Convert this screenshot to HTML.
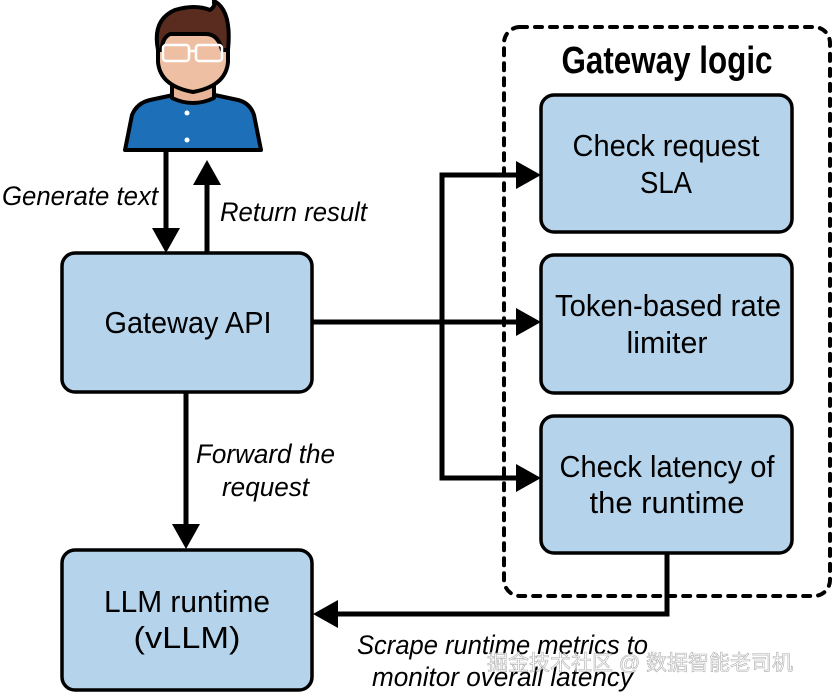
<!DOCTYPE html>
<html><head><meta charset="utf-8"><style>html,body{margin:0;padding:0;background:#fff}svg{display:block}</style></head>
<body>
<svg width="833" height="697" viewBox="0 0 833 697" xmlns="http://www.w3.org/2000/svg" font-family="Liberation Sans, sans-serif">
<rect x="504" y="27" width="326" height="569" rx="16" fill="none" stroke="#000" stroke-width="4" stroke-dasharray="7,8" stroke-linecap="round"/>
<text x="667" y="73" font-size="38" text-anchor="middle" textLength="211" lengthAdjust="spacingAndGlyphs" font-weight="bold">Gateway logic</text>
<g fill="#b5d4ec" stroke="#000" stroke-width="3.5">
<rect x="62" y="253" width="250" height="139" rx="13"/>
<rect x="62" y="550" width="250" height="140" rx="13"/>
<rect x="541" y="95" width="251" height="137" rx="13"/>
<rect x="541" y="255" width="251" height="138" rx="13"/>
<rect x="541" y="416" width="251" height="137" rx="13"/>
</g>
<g font-size="31" text-anchor="middle">
<text x="188" y="333" textLength="167" lengthAdjust="spacingAndGlyphs">Gateway API</text>
<text x="187" y="612" textLength="166" lengthAdjust="spacingAndGlyphs">LLM runtime</text>
<text x="187" y="648" textLength="107" lengthAdjust="spacingAndGlyphs">(vLLM)</text>
<text x="666" y="156" textLength="187" lengthAdjust="spacingAndGlyphs">Check request</text>
<text x="666" y="193" textLength="52" lengthAdjust="spacingAndGlyphs">SLA</text>
<text x="668" y="316" textLength="226" lengthAdjust="spacingAndGlyphs">Token-based rate</text>
<text x="667" y="353" textLength="81" lengthAdjust="spacingAndGlyphs">limiter</text>
<text x="667" y="477" textLength="215" lengthAdjust="spacingAndGlyphs">Check latency of</text>
<text x="667" y="513" textLength="155" lengthAdjust="spacingAndGlyphs">the runtime</text>
</g>
<g font-size="27" font-style="italic">
<text x="2" y="205" textLength="156" lengthAdjust="spacingAndGlyphs">Generate text</text>
<text x="220" y="221" textLength="147" lengthAdjust="spacingAndGlyphs">Return result</text>
<text x="196" y="463" textLength="139" lengthAdjust="spacingAndGlyphs">Forward the</text>
<text x="222" y="496" textLength="87" lengthAdjust="spacingAndGlyphs">request</text>
<text x="357" y="654" textLength="291" lengthAdjust="spacingAndGlyphs">Scrape runtime metrics to</text>
<text x="372" y="686" textLength="261" lengthAdjust="spacingAndGlyphs">monitor overall latency</text>
</g>
<g stroke="#000" stroke-width="5" fill="none">
<line x1="166" y1="148" x2="166" y2="232"/>
<line x1="207" y1="253" x2="207" y2="180"/>
<line x1="186" y1="393" x2="186" y2="528"/>
<line x1="312" y1="322" x2="520" y2="322"/>
<polyline points="520,175 442,175 442,478 520,478"/>
<polyline points="667,553 667,614 334,614"/>
</g>
<g fill="#000">
<polygon points="152,228 180,228 166,253"/>
<polygon points="193,185 221,185 207,160"/>
<polygon points="172,524 200,524 186,549"/>
<polygon points="516,308 516,336 541,322"/>
<polygon points="516,161 516,189 541,175"/>
<polygon points="516,464 516,492 541,478"/>
<polygon points="338,600 338,628 313,614"/>
</g>
<g stroke="#000" stroke-width="4" stroke-linejoin="round">
<path d="M125,150 L132,115 Q137,103 150,100 L178,94 L210,94 L238,100 Q250,103 254,115 L261,150 Z" fill="#1d6fb8"/>
<path d="M172,80 L172,98 Q193,108 214,98 L214,80 Z" fill="#e8b497"/>
<path d="M158,40 Q158,20 175,14 Q195,8 210,14 Q218,10 214,3 Q230,12 228,40 L228,62 Q226,86 193,92 Q160,86 158,62 Z" fill="#efbfa3"/>
<path d="M158,50 Q152,20 175,10 Q195,4 210,10 Q216,6 214,1 Q232,10 228,50 L222,50 Q218,34 206,34 L170,34 Q162,38 162,50 Z" fill="#5a2c20"/>
</g>
<g fill="none" stroke="#fff" stroke-width="2.5">
<rect x="163" y="45" width="26" height="16" rx="3"/>
<rect x="196" y="45" width="26" height="16" rx="3"/>
<line x1="189" y1="51" x2="196" y2="51"/>
</g>
<circle cx="187" cy="113" r="2.5" fill="#fff"/><circle cx="187" cy="140" r="2.5" fill="#fff"/>
<text x="487" y="670" font-size="21" fill="#fff" stroke="#999" stroke-width="0.6" font-family="Liberation Sans, Noto Sans CJK SC, sans-serif" opacity="0.8">掘金技术社区 @ 数据智能老司机</text>
</svg>
</body></html>
